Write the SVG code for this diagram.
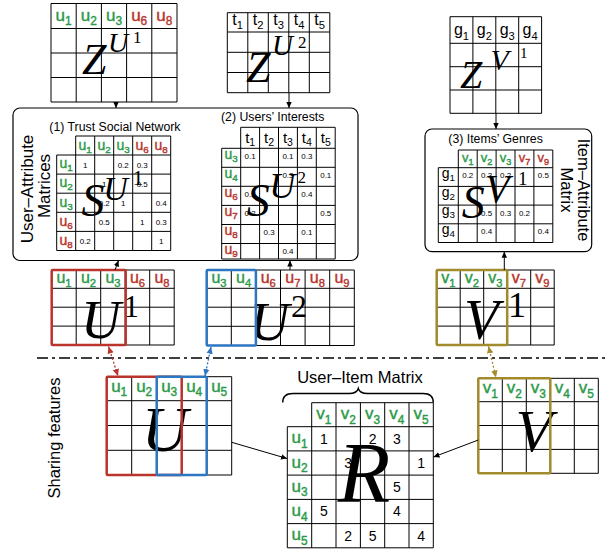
<svg xmlns="http://www.w3.org/2000/svg" width="605" height="552" viewBox="0 0 605 552">
<defs>
<style>
.t{font-family:"Liberation Sans",Arial,sans-serif;text-anchor:middle}
.s{font-size:70%}
.g{fill:#2b9a48;stroke:#2b9a48;stroke-width:0.4}.r{fill:#b8342c;stroke:#b8342c;stroke-width:0.4}.k{fill:#000}
.n{font-family:"Liberation Sans",Arial,sans-serif;font-size:8px;text-anchor:middle}
.nb{font-family:"Liberation Sans",Arial,sans-serif;font-size:14px;text-anchor:middle}
.mi{font-family:"Liberation Serif","Times New Roman",serif;font-style:italic}
.rm{font-family:"Liberation Serif","Times New Roman",serif}
.lab{font-family:"Liberation Sans",Arial,sans-serif}
.grid{fill:none;stroke:#000;stroke-width:1}
.box{fill:none;stroke:#000;stroke-width:1.2}
.hr{fill:none;stroke:#b8342c;stroke-width:2.5}
.hb{fill:none;stroke:#2d76c1;stroke-width:2.5}
.ho{fill:none;stroke:#a18b2c;stroke-width:2.5}
.ca{fill:none;stroke:#000;stroke-width:1;marker-end:url(#ak)}
.dr{fill:none;stroke:#b8342c;stroke-width:1.3;stroke-dasharray:2 2;marker-start:url(#ar);marker-end:url(#ar)}
.db{fill:none;stroke:#2d76c1;stroke-width:1.3;stroke-dasharray:2 2;marker-start:url(#ab);marker-end:url(#ab)}
.do{fill:none;stroke:#a18b2c;stroke-width:1.3;stroke-dasharray:2 2;marker-start:url(#ao);marker-end:url(#ao)}
</style>
<marker id="ak" viewBox="0 0 10 10" refX="10" refY="5" markerWidth="6" markerHeight="6" markerUnits="userSpaceOnUse" orient="auto-start-reverse"><path d="M0,0.5L10,5L0,9.5Z" fill="#000"/></marker>
<marker id="ar" viewBox="0 0 10 10" refX="10" refY="5" markerWidth="7" markerHeight="7" markerUnits="userSpaceOnUse" orient="auto-start-reverse"><path d="M0,0.5L10,5L0,9.5Z" fill="#b8342c"/></marker>
<marker id="ab" viewBox="0 0 10 10" refX="10" refY="5" markerWidth="7" markerHeight="7" markerUnits="userSpaceOnUse" orient="auto-start-reverse"><path d="M0,0.5L10,5L0,9.5Z" fill="#2d76c1"/></marker>
<marker id="ao" viewBox="0 0 10 10" refX="10" refY="5" markerWidth="7" markerHeight="7" markerUnits="userSpaceOnUse" orient="auto-start-reverse"><path d="M0,0.5L10,5L0,9.5Z" fill="#a18b2c"/></marker>
</defs>
<rect width="605" height="552" fill="#fff"/>

<!-- Z^U1 -->
<g id="ZU1">
<path class="grid" d="M51 3.5H177V102H51Z M76.2 3.5V102M101.4 3.5V102M126.6 3.5V102M151.8 3.5V102M51 28.5H177M51 53H177M51 77.5H177"/>
<g class="t" font-size="17">
<text x="63.6" y="20.5" class="g">u<tspan class="s" dy="4">1</tspan></text>
<text x="88.8" y="20.5" class="g">u<tspan class="s" dy="4">2</tspan></text>
<text x="114" y="20.5" class="g">u<tspan class="s" dy="4">3</tspan></text>
<text x="139.2" y="20.5" class="r">u<tspan class="s" dy="4">6</tspan></text>
<text x="164.4" y="20.5" class="r">u<tspan class="s" dy="4">8</tspan></text>
</g>
<text class="mi" x="82" y="74" font-size="44">Z</text>
<text class="mi" x="108" y="52" font-size="28">U</text>
<text class="rm" x="133" y="43" font-size="17">1</text>
</g>

<!-- Z^U2 -->
<g id="ZU2">
<path class="grid" d="M227.3 12.7H329.8V92.7H227.3Z M247.8 12.7V92.7M268.3 12.7V92.7M288.8 12.7V92.7M309.3 12.7V92.7M227.3 32H329.8M227.3 52.3H329.8M227.3 72.5H329.8"/>
<g class="t k" font-size="16">
<text x="237.55" y="25">t<tspan class="s" dy="4">1</tspan></text>
<text x="258.05" y="25">t<tspan class="s" dy="4">2</tspan></text>
<text x="278.55" y="25">t<tspan class="s" dy="4">3</tspan></text>
<text x="299.05" y="25">t<tspan class="s" dy="4">4</tspan></text>
<text x="319.55" y="25">t<tspan class="s" dy="4">5</tspan></text>
</g>
<text class="mi" x="246" y="81.7" font-size="44">Z</text>
<text class="mi" x="272" y="55" font-size="29">U</text>
<text class="rm" x="298" y="48" font-size="17">2</text>
</g>

<!-- Z^V1 -->
<g id="ZV1">
<path class="grid" d="M450 16.7H541.6V113.3H450Z M472.9 16.7V113.3M495.8 16.7V113.3M518.7 16.7V113.3M450 43.3H541.6M450 66.7H541.6M450 90H541.6"/>
<g class="t k" font-size="16">
<text x="461.45" y="34.5">g<tspan class="s" dy="5">1</tspan></text>
<text x="484.35" y="34.5">g<tspan class="s" dy="5">2</tspan></text>
<text x="507.25" y="34.5">g<tspan class="s" dy="5">3</tspan></text>
<text x="530.15" y="34.5">g<tspan class="s" dy="5">4</tspan></text>
</g>
<text class="mi" x="460" y="88" font-size="40">Z</text>
<text class="mi" x="490.5" y="70" font-size="30">V</text>
<text class="rm" x="520" y="57.5" font-size="15">1</text>
</g>

<!-- User-Attribute Matrices box -->
<g id="UserAttr">
<rect class="box" x="13" y="108" width="345" height="152.5" rx="7"/>
<text class="lab" font-size="17" text-anchor="middle" transform="translate(33.3,189) rotate(-90)">User–Attribute</text>
<text class="lab" font-size="17" text-anchor="middle" transform="translate(50,186) rotate(-90)">Matrices</text>
</g>

<!-- S^U1 -->
<g id="SU1">
<text class="lab" x="49.3" y="131" font-size="12.3">(1) Trust Social Network</text>
<path class="grid" d="M75.7 136H170.7M56.7 155H170.7M56.7 174.1H170.7M56.7 193.2H170.7M56.7 212.3H170.7M56.7 231.4H170.7M56.7 250.5H170.7M56.7 155V250.5M75.7 136V250.5M94.7 136V250.5M113.7 136V250.5M132.7 136V250.5M151.7 136V250.5M170.7 136V250.5"/>
<g class="t" font-size="14">
<text x="85.2" y="150" class="g">u<tspan class="s" dy="3">1</tspan></text>
<text x="104.2" y="150" class="g">u<tspan class="s" dy="3">2</tspan></text>
<text x="123.2" y="150" class="g">u<tspan class="s" dy="3">3</tspan></text>
<text x="142.2" y="150" class="r">u<tspan class="s" dy="3">6</tspan></text>
<text x="161.2" y="150" class="r">u<tspan class="s" dy="3">8</tspan></text>
<text x="66.2" y="168.3" class="g">u<tspan class="s" dy="3">1</tspan></text>
<text x="66.2" y="187.4" class="g">u<tspan class="s" dy="3">2</tspan></text>
<text x="66.2" y="206.5" class="g">u<tspan class="s" dy="3">3</tspan></text>
<text x="66.2" y="225.6" class="r">u<tspan class="s" dy="3">6</tspan></text>
<text x="66.2" y="244.7" class="r">u<tspan class="s" dy="3">8</tspan></text>
</g>
<g class="n">
<text x="85.2" y="168">1</text><text x="123.2" y="168">0.2</text><text x="142.2" y="168">0.3</text>
<text x="104.2" y="187.1">1</text><text x="142.2" y="187.1">0.5</text>
<text x="104.2" y="206.2">0.2</text><text x="123.2" y="206.2">1</text><text x="161.2" y="206.2">0.4</text>
<text x="104.2" y="225.3">0.5</text><text x="142.2" y="225.3">1</text><text x="161.2" y="225.3">0.3</text>
<text x="85.2" y="244.4">0.2</text><text x="161.2" y="244.4">1</text>
</g>
<text class="mi" x="81.6" y="216" font-size="46">S</text>
<text class="mi" x="103.2" y="200" font-size="34">U</text>
<text class="rm" x="132.6" y="185" font-size="22">1</text>
</g>

<!-- S^U2 -->
<g id="SU2">
<text class="lab" x="221" y="121" font-size="12.3">(2) Users’ Interests</text>
<path class="grid" d="M240.7 127.3H335.2M221.7 148.3H335.2M221.7 167.3H335.2M221.7 186.3H335.2M221.7 205.4H335.2M221.7 224.5H335.2M221.7 243.5H335.2M221.7 259H335.2M221.7 148.3V259M240.7 127.3V259M259.6 127.3V259M278.5 127.3V259M297.4 127.3V259M316.3 127.3V259M335.2 127.3V259"/>
<g class="t k" font-size="15">
<text x="250.15" y="143.3">t<tspan class="s" dy="3">1</tspan></text>
<text x="269.05" y="143.3">t<tspan class="s" dy="3">2</tspan></text>
<text x="287.95" y="143.3">t<tspan class="s" dy="3">3</tspan></text>
<text x="306.85" y="143.3">t<tspan class="s" dy="3">4</tspan></text>
<text x="325.75" y="143.3">t<tspan class="s" dy="3">5</tspan></text>
</g>
<g class="t" font-size="14">
<text x="231.2" y="159" class="g">u<tspan class="s" dy="3">3</tspan></text>
<text x="231.2" y="178" class="g">u<tspan class="s" dy="3">4</tspan></text>
<text x="231.2" y="197" class="r">u<tspan class="s" dy="3">6</tspan></text>
<text x="231.2" y="216.1" class="r">u<tspan class="s" dy="3">7</tspan></text>
<text x="231.2" y="235.2" class="r">u<tspan class="s" dy="3">8</tspan></text>
<text x="231.2" y="254.2" class="r">u<tspan class="s" dy="3">9</tspan></text>
</g>
<g class="n">
<text x="250.15" y="159">0.1</text><text x="287.95" y="159">0.1</text><text x="306.85" y="159">0.3</text>
<text x="287.95" y="178">0.3</text><text x="325.75" y="178">0.1</text>
<text x="250.15" y="197">0.2</text><text x="306.85" y="197">0.4</text>
<text x="250.15" y="216.1">0.2</text><text x="325.75" y="216.1">0.5</text>
<text x="269.05" y="235.2">0.3</text><text x="306.85" y="235.2">0.1</text>
<text x="287.95" y="254.2">0.4</text>
</g>
<text class="mi" x="246.7" y="216" font-size="46">S</text>
<text class="mi" x="269.3" y="198" font-size="36">U</text>
<text class="rm" x="297.5" y="183" font-size="17">2</text>
</g>

<!-- S^V1 -->
<g id="SV1">
<rect class="box" x="425" y="129" width="166.7" height="122.7" rx="7"/>
<text class="lab" x="448.3" y="143.3" font-size="12.3">(3) Items’ Genres</text>
<text class="lab" font-size="16.5" text-anchor="middle" transform="translate(577.5,190) rotate(90)">Item–Attribute</text>
<text class="lab" font-size="16.5" text-anchor="middle" transform="translate(561,190) rotate(90)">Matrix</text>
<path class="grid" d="M458.3 150H552.8M438.3 167.7H552.8M438.3 186.4H552.8M438.3 205.1H552.8M438.3 223.8H552.8M438.3 242.5H552.8M438.3 167.7V242.5M458.3 150V242.5M477.2 150V242.5M496.1 150V242.5M515 150V242.5M533.9 150V242.5M552.8 150V242.5"/>
<g class="t" font-size="13">
<text x="467.75" y="161.7" class="g">v<tspan class="s" dy="3">1</tspan></text>
<text x="486.65" y="161.7" class="g">v<tspan class="s" dy="3">2</tspan></text>
<text x="505.55" y="161.7" class="g">v<tspan class="s" dy="3">3</tspan></text>
<text x="524.45" y="161.7" class="r">v<tspan class="s" dy="3">7</tspan></text>
<text x="543.35" y="161.7" class="r">v<tspan class="s" dy="3">9</tspan></text>
</g>
<g class="t k" font-size="14">
<text x="448.3" y="178">g<tspan class="s" dy="3">1</tspan></text>
<text x="448.3" y="196.7">g<tspan class="s" dy="3">2</tspan></text>
<text x="448.3" y="215.4">g<tspan class="s" dy="3">3</tspan></text>
<text x="448.3" y="234.1">g<tspan class="s" dy="3">4</tspan></text>
</g>
<g class="n">
<text x="467.75" y="178.3">0.2</text><text x="486.65" y="178.3">0.3</text><text x="505.55" y="178.3">0.2</text><text x="543.35" y="178.3">0.5</text>
<text x="486.65" y="215.7">0.5</text><text x="505.55" y="215.7">0.3</text><text x="524.45" y="215.7">0.2</text>
<text x="486.65" y="234.4">0.4</text><text x="543.35" y="234.4">0.4</text>
</g>
<text class="mi" x="461.7" y="218" font-size="46">S</text>
<text class="mi" x="485" y="201.7" font-size="40">V</text>
<text class="rm" x="518" y="185" font-size="19">1</text>
</g>

<!-- U^1 -->
<g id="U1">
<path class="grid" d="M51.7 270H174.2V345H51.7Z M76.2 270V345M100.7 270V345M125.2 270V345M149.7 270V345M51.7 288.3H174.2M51.7 307.2H174.2M51.7 326.1H174.2"/>
<g class="t" font-size="16">
<text x="63.95" y="283.3" class="g">u<tspan class="s" dy="4">1</tspan></text>
<text x="88.45" y="283.3" class="g">u<tspan class="s" dy="4">2</tspan></text>
<text x="112.95" y="283.3" class="g">u<tspan class="s" dy="4">3</tspan></text>
<text x="137.45" y="283.3" class="r">u<tspan class="s" dy="4">6</tspan></text>
<text x="161.95" y="283.3" class="r">u<tspan class="s" dy="4">8</tspan></text>
</g>
<text class="mi" x="81" y="337.5" font-size="55">U</text>
<text class="rm" x="123.6" y="316.7" font-size="31">1</text>
<rect class="hr" x="51.7" y="270" width="74" height="75" rx="1"/>
</g>

<!-- U^2 -->
<g id="U2">
<path class="grid" d="M206.7 270H354.3V345.5H206.7Z M231.3 270V345.5M255.9 270V345.5M280.5 270V345.5M305.1 270V345.5M329.7 270V345.5M206.7 288.3H354.3M206.7 307.2H354.3M206.7 326.3H354.3"/>
<g class="t" font-size="16">
<text x="219" y="283.3" class="g">u<tspan class="s" dy="4">3</tspan></text>
<text x="243.6" y="283.3" class="g">u<tspan class="s" dy="4">4</tspan></text>
<text x="268.2" y="283.3" class="r">u<tspan class="s" dy="4">6</tspan></text>
<text x="292.8" y="283.3" class="r">u<tspan class="s" dy="4">7</tspan></text>
<text x="317.4" y="283.3" class="r">u<tspan class="s" dy="4">8</tspan></text>
<text x="342" y="283.3" class="r">u<tspan class="s" dy="4">9</tspan></text>
</g>
<text class="mi" x="249.4" y="339.5" font-size="55">U</text>
<text class="rm" x="291" y="316.7" font-size="32">2</text>
<rect class="hb" x="206.7" y="270" width="49.2" height="75.5" rx="1"/>
</g>

<!-- V^1 -->
<g id="V1">
<path class="grid" d="M436.7 270H554.2V345H436.7Z M460.2 270V345M483.7 270V345M507.2 270V345M530.7 270V345M436.7 288.3H554.2M436.7 307.2H554.2M436.7 326.1H554.2"/>
<g class="t" font-size="16">
<text x="448.45" y="283.3" class="g">v<tspan class="s" dy="4">1</tspan></text>
<text x="471.95" y="283.3" class="g">v<tspan class="s" dy="4">2</tspan></text>
<text x="495.45" y="283.3" class="g">v<tspan class="s" dy="4">3</tspan></text>
<text x="518.95" y="283.3" class="r">v<tspan class="s" dy="4">7</tspan></text>
<text x="542.45" y="283.3" class="r">v<tspan class="s" dy="4">9</tspan></text>
</g>
<text class="mi" x="464" y="339" font-size="57">V</text>
<text class="rm" x="508" y="316.7" font-size="36">1</text>
<rect class="ho" x="436.7" y="270" width="70.5" height="75" rx="1"/>
</g>

<!-- Sharing features label -->
<text class="lab" font-size="16.5" text-anchor="middle" transform="translate(60,438) rotate(-90)">Sharing features</text>

<!-- U -->
<g id="U">
<path class="grid" d="M106.7 376.7H231.7V475H106.7Z M131.7 376.7V475M156.7 376.7V475M181.7 376.7V475M206.7 376.7V475M106.7 400.7H231.7M106.7 425.5H231.7M106.7 450.3H231.7"/>
<g class="t g" font-size="17">
<text x="119.2" y="391.7">u<tspan class="s" dy="4.5">1</tspan></text>
<text x="144.2" y="391.7">u<tspan class="s" dy="4.5">2</tspan></text>
<text x="169.2" y="391.7">u<tspan class="s" dy="4.5">3</tspan></text>
<text x="194.2" y="391.7">u<tspan class="s" dy="4.5">4</tspan></text>
<text x="219.2" y="391.7">u<tspan class="s" dy="4.5">5</tspan></text>
</g>
<text class="mi" x="141.8" y="450.7" font-size="64">U</text>
<rect class="hr" x="106.7" y="376.7" width="75" height="98.3" rx="1"/>
<rect class="hb" x="156.7" y="376.7" width="50" height="98.3" rx="1"/>
</g>

<!-- R -->
<g id="R">
<text class="lab" x="360" y="383.3" font-size="16.5" text-anchor="middle">User–Item Matrix</text>
<path fill="none" stroke="#000" stroke-width="1.4" d="M282.7 402.5C282.7 396 286 393.5 293 393.5H349C354 393.5 357.3 392 358.3 388.5C359.3 392 362.6 393.5 367.6 393.5H423C430 393.5 433.3 396 433.3 402.5"/>
<path class="grid" d="M311.7 402.7H433.3M287.3 426.7H433.3M287.3 450.9H433.3M287.3 475.1H433.3M287.3 499.4H433.3M287.3 523.6H433.3M287.3 547.8H433.3M287.3 426.7V547.8M311.7 402.7V547.8M336 402.7V547.8M360.4 402.7V547.8M384.7 402.7V547.8M409 402.7V547.8M433.3 402.7V547.8"/>
<g class="t g" font-size="17">
<text x="323.85" y="419.3">v<tspan class="s" dy="4.5">1</tspan></text>
<text x="348.2" y="419.3">v<tspan class="s" dy="4.5">2</tspan></text>
<text x="372.55" y="419.3">v<tspan class="s" dy="4.5">3</tspan></text>
<text x="396.85" y="419.3">v<tspan class="s" dy="4.5">4</tspan></text>
<text x="421.15" y="419.3">v<tspan class="s" dy="4.5">5</tspan></text>
<text x="299.5" y="443.3">u<tspan class="s" dy="4.5">1</tspan></text>
<text x="299.5" y="467.5">u<tspan class="s" dy="4.5">2</tspan></text>
<text x="299.5" y="491.7">u<tspan class="s" dy="4.5">3</tspan></text>
<text x="299.5" y="516">u<tspan class="s" dy="4.5">4</tspan></text>
<text x="299.5" y="540.2">u<tspan class="s" dy="4.5">5</tspan></text>
</g>
<g class="nb">
<text x="323.85" y="443.7">1</text><text x="372.55" y="443.7">2</text><text x="396.85" y="443.7">3</text>
<text x="348.2" y="467.9">3</text><text x="421.15" y="467.9">1</text>
<text x="396.85" y="492.1">5</text>
<text x="323.85" y="516.4">5</text><text x="396.85" y="516.4">4</text>
<text x="348.2" y="540.6">2</text><text x="372.55" y="540.6">5</text><text x="421.15" y="540.6">4</text>
</g>
<text class="mi" x="337.8" y="501.7" font-size="86">R</text>
</g>

<!-- V -->
<g id="V">
<path class="grid" d="M478.3 378.3H598.3V473.3H478.3Z M502.3 378.3V473.3M526.3 378.3V473.3M550.3 378.3V473.3M574.3 378.3V473.3M478.3 401.7H598.3M478.3 425.5H598.3M478.3 449.4H598.3"/>
<g class="t g" font-size="17">
<text x="490.3" y="393.3">v<tspan class="s" dy="4.5">1</tspan></text>
<text x="514.3" y="393.3">v<tspan class="s" dy="4.5">2</tspan></text>
<text x="538.3" y="393.3">v<tspan class="s" dy="4.5">3</tspan></text>
<text x="562.3" y="393.3">v<tspan class="s" dy="4.5">4</tspan></text>
<text x="586.3" y="393.3">v<tspan class="s" dy="4.5">5</tspan></text>
</g>
<text class="mi" x="515.5" y="451" font-size="60">V</text>
<rect class="ho" x="478.3" y="378.3" width="72" height="95" rx="1"/>
</g>

<!-- connectors -->
<g id="connectors">
<line x1="37" y1="358" x2="605" y2="358" stroke="#000" stroke-width="1.5" stroke-dasharray="11 4 3 4"/>
<line class="ca" x1="116" y1="102" x2="116" y2="108"/>
<line class="ca" x1="289" y1="93" x2="289" y2="108"/>
<line class="ca" x1="496" y1="113.5" x2="496" y2="129"/>
<line class="ca" x1="115" y1="270" x2="118.5" y2="260.5"/>
<line class="ca" x1="290" y1="270" x2="290" y2="260.5"/>
<line class="ca" x1="504.3" y1="270" x2="504.3" y2="251.7"/>
<line class="ca" x1="231.7" y1="442.3" x2="287" y2="458.5"/>
<line class="ca" x1="478.3" y1="440" x2="433.5" y2="457"/>
<line class="dr" x1="108.5" y1="346.5" x2="118" y2="376"/>
<line class="db" x1="211" y1="346.8" x2="205" y2="376"/>
<line class="do" x1="488.5" y1="346.3" x2="496" y2="377.5"/>
</g>
</svg>
